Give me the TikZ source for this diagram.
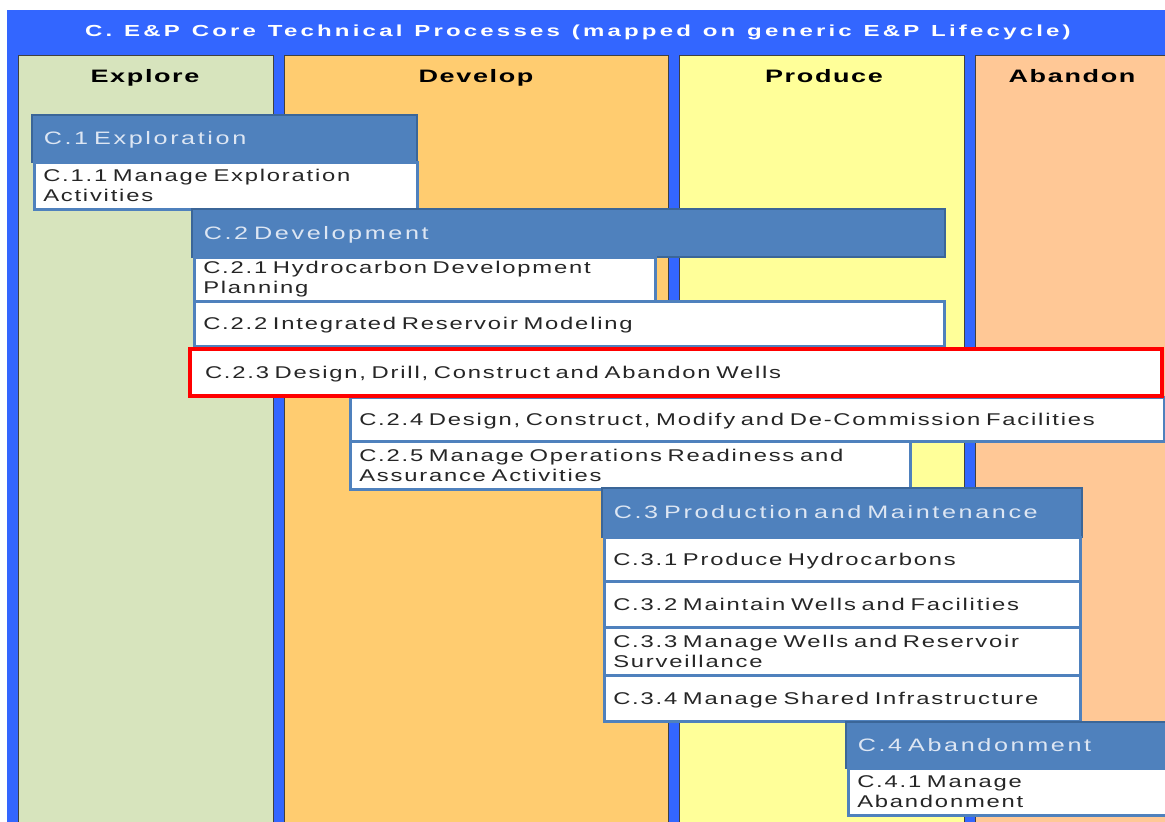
\documentclass[tikz,border=0pt]{standalone}
\usepackage{fontspec}
\setmainfont{Liberation Sans}
\newfontfamily\itemfont{Liberation Sans}[FakeStretch=1.4,LetterSpace=10.5,WordSpace=1.4]
\newfontfamily\grpfont{Liberation Sans}[FakeStretch=1.4,LetterSpace=14.5,WordSpace=1.4]
\newfontfamily\phasefont{Liberation Sans}[FakeStretch=1.5,LetterSpace=9]
\newfontfamily\titlefont{Liberation Sans}[FakeStretch=1.5,LetterSpace=20,WordSpace=1.2]
\usetikzlibrary{positioning}
\definecolor{frameblue}{HTML}{3366FF}
\definecolor{explorefill}{HTML}{D7E4BD}
\definecolor{developfill}{HTML}{FFCC70}
\definecolor{producefill}{HTML}{FFFF99}
\definecolor{abandonfill}{HTML}{FFC896}
\definecolor{grpblue}{HTML}{4F81BD}
\definecolor{grpdark}{HTML}{3B6698}
\definecolor{grptext}{HTML}{DDE6F3}

\begin{document}
\begin{tikzpicture}[
  x=1pt, y=-1pt,
  phase/.style={rectangle, draw=black!75, line width=1pt, anchor=north west,
                minimum height=770, inner sep=0pt},
  phaselbl/.style={anchor=base, inner sep=0pt, text=black,
                   font=\phasefont\bfseries\fontsize{18}{20}\selectfont},
  grp/.style={rectangle, draw=grpdark, line width=1.5pt, fill=grpblue,
              anchor=north west, inner xsep=12pt, inner ysep=0pt, align=left,
              text=grptext, text height=13pt, text depth=0pt,
              font=\grpfont\fontsize{18}{20}\selectfont},
  item/.style={rectangle, draw=grpblue, line width=2.5pt, fill=white,
               anchor=north west, inner xsep=9pt, inner ysep=0pt, align=left,
               text=black!85, font=\itemfont\fontsize{17}{20}\selectfont},
  itemone/.style={item, text depth=0pt},
  redbox/.style={itemone, draw=red, line width=4pt, inner xsep=15pt},
]
  \fill[white] (0,0) rectangle (1165,822);
  \useasboundingbox (0,0) rectangle (1165,822);
  \clip (0,0) rectangle (1165,822);
  \fill[frameblue] (7,10) rectangle (1180,830);

  % title and lifecycle phases
  \node[anchor=base, inner sep=0pt, text=white,
        font=\titlefont\bfseries\fontsize{16}{18}\selectfont] (title) at (578,36)
        {C. E\&P Core Technical Processes (mapped on generic E\&P Lifecycle)};
  \node[phase, fill=explorefill, minimum width=255] (explore) at (18,55) {};
  \node[phase, fill=developfill, minimum width=384] (develop) at (284,55) {};
  \node[phase, fill=producefill, minimum width=285] (produce) at (679,55) {};
  \node[phase, fill=abandonfill, minimum width=230] (abandon) at (975,55) {};
  \node[phaselbl] (explorelbl) at (145,82) {Explore};
  \node[phaselbl] (developlbl) at (476,82) {Develop};
  \node[phaselbl] (producelbl) at (824,82) {Produce};
  \node[phaselbl] (abandonlbl) at (1072,82) {Abandon};

  % C.1
  \node[grp, minimum width=385, minimum height=47, text width=361] (c1) at (31,114) {C.1 Exploration};
  \node[item, minimum width=383, minimum height=47, text width=365] (c11) at (33,161)
        {C.1.1 Manage Exploration\\Activities};

  % C.2
  \node[grp, minimum width=753, minimum height=48, text width=729] (c2) at (191,208) {C.2 Development};
  \node[item, minimum width=461, minimum height=44, text width=443] (c21) at (193,256)
        {C.2.1 Hydrocarbon Development\\Planning};
  \node[itemone, minimum width=750, minimum height=45, text width=732] (c22) at (193,300)
        {C.2.2 Integrated Reservoir Modeling};
  \node[itemone, minimum width=814, minimum height=44, text width=796] (c24) at (349,396)
        {C.2.4 Design, Construct, Modify and De-Commission Facilities};
  \node[item, minimum width=560, minimum height=48, text width=542] (c25) at (349,440)
        {C.2.5 Manage Operations Readiness and\\Assurance Activities};
  \node[redbox, minimum width=972, minimum height=47, text width=942] (c23) at (188,347)
        {C.2.3 Design, Drill, Construct and Abandon Wells};

  % C.3
  \node[grp, minimum width=480, minimum height=49, text width=456] (c3) at (601,487) {C.3 Production and Maintenance};
  \node[itemone, minimum width=476, minimum height=44, text width=458] (c31) at (603,536)
        {C.3.1 Produce Hydrocarbons};
  \node[itemone, minimum width=476, minimum height=46, text width=458] (c32) at (603,580)
        {C.3.2 Maintain Wells and Facilities};
  \node[item, minimum width=476, minimum height=48, text width=458] (c33) at (603,626)
        {C.3.3 Manage Wells and Reservoir\\Surveillance};
  \node[itemone, minimum width=476, minimum height=46, text width=458] (c34) at (603,674)
        {C.3.4 Manage Shared Infrastructure};

  % C.4
  \node[grp, minimum width=330, minimum height=46, text width=306] (c4) at (845,721) {C.4 Abandonment};
  \node[item, minimum width=328, minimum height=47, text width=310] (c41) at (847,767)
        {C.4.1 Manage\\Abandonment};
\end{tikzpicture}
\end{document}
